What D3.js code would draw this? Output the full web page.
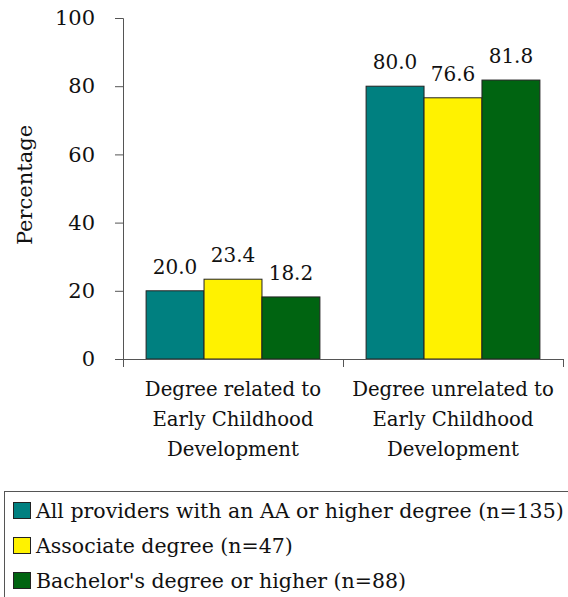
<!DOCTYPE html>
<html><head><meta charset="utf-8">
<script src="https://cdn.jsdelivr.net/npm/d3@7"></script>
<style>body{margin:0;background:#fff}svg{display:block}text{font-family:"DejaVu Serif",serif;fill:#111}</style>
</head><body><svg id="c" width="568" height="597"></svg>
<script>
const categories = [["Degree related to","Early Childhood","Development"],["Degree unrelated to","Early Childhood","Development"]];
const seriesNames = ["All providers with an AA or higher degree (n=135)","Associate degree (n=47)","Bachelor's degree or higher (n=88)"];
const seriesColors = ["#008080","#FFF200","#006411"];
const allProviders = [20.0, 80.0];
const associate = [23.4, 76.6];
const bachelor = [18.2, 81.8];
const yTicks = [0,20,40,60,80,100];
const yLabel = "Percentage";

const values = [allProviders, associate, bachelor];
const svg = d3.select("#c");
const pLeft = 123, pRight = 563, pTop = 18, pBottom = 359;
const x0 = d3.scaleBand().domain([0,1]).range([pLeft,pRight]).paddingInner(0.21).paddingOuter(0.105);
const x1 = d3.scaleBand().domain([0,1,2]).range([0,x0.bandwidth()]);
const y = d3.scaleLinear().domain([0,100]).range([pBottom,pTop]);

// bars
values.forEach((vals,s)=>{
  svg.append("g").selectAll("rect").data(vals).join("rect")
    .attr("x",(d,i)=>x0(i)+x1(s)).attr("width",x1.bandwidth())
    .attr("y",d=>y(d)).attr("height",d=>y(0)-y(d))
    .attr("fill",seriesColors[s]).attr("stroke","#222").attr("stroke-width",1);
  svg.append("g").selectAll("text").data(vals).join("text")
    .attr("x",(d,i)=>x0(i)+x1(s)+x1.bandwidth()/2).attr("y",d=>y(d)-17)
    .attr("text-anchor","middle").style("font-size","20px").text(d=>d.toFixed(1));
});

// y axis
const ya = svg.append("g").attr("transform",`translate(${pLeft},0)`)
  .call(d3.axisLeft(y).tickValues(yTicks).tickSize(8).tickPadding(20));
ya.select(".domain").attr("stroke","#555");
ya.selectAll(".tick line").attr("stroke","#555");
ya.selectAll("text").style("font-size","21px").attr("font-family",null).attr("fill","#111");

// x axis
const xa = svg.append("g").attr("transform",`translate(0,${pBottom})`)
  .call(d3.axisBottom(d3.scaleLinear().domain([0,2]).range([pLeft,pRight])).tickValues([0,1,2]).tickSize(8).tickFormat(""));
xa.select(".domain").attr("stroke","#555");
xa.selectAll(".tick line").attr("stroke","#555");

categories.forEach((lines,i)=>{
  const t = svg.append("text").attr("x",x0(i)+x0.bandwidth()/2).attr("y",396)
    .attr("text-anchor","middle").style("font-size","19.7px");
  lines.forEach((l,j)=>t.append("tspan").attr("x",x0(i)+x0.bandwidth()/2).attr("dy",j?30:0).text(l));
});

svg.append("text").attr("transform",`translate(32,185) rotate(-90)`).attr("text-anchor","middle")
  .style("font-size","21px").text(yLabel);

// legend
svg.append("rect").attr("x",4.5).attr("y",491.5).attr("width",600).attr("height",200)
  .attr("fill","none").attr("stroke","#555");
seriesNames.forEach((n,i)=>{
  const yy = 502 + i*35;
  svg.append("rect").attr("x",13.5).attr("y",yy+0.5).attr("width",17).attr("height",16)
    .attr("fill",seriesColors[i]).attr("stroke","#222");
  svg.append("text").attr("x",36).attr("y",yy+16).style("font-size","20.5px").text(n);
});
</script></body></html>
